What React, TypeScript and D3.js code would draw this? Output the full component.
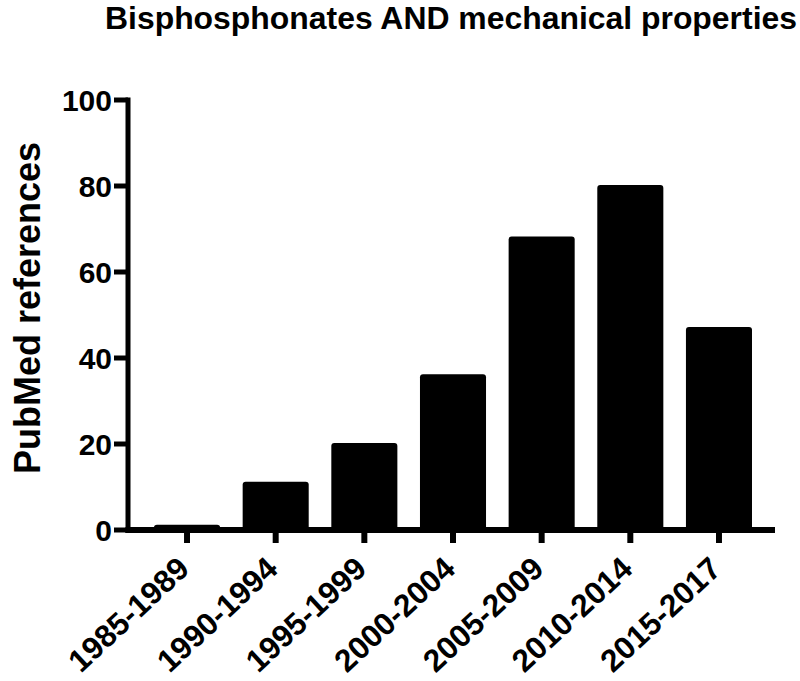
import React, { useEffect, useRef } from "react";
import * as d3 from "d3";

const periods = [
  "1985-1989",
  "1990-1994",
  "1995-1999",
  "2000-2004",
  "2005-2009",
  "2010-2014",
  "2015-2017",
];
const references = [1, 11, 20, 36, 68, 80, 47];
const yTicks = [0, 20, 40, 60, 80, 100];

const FONT = "'Liberation Sans', Arial, Helvetica, sans-serif";

const App = () => {
  const chartRef = useRef<SVGSVGElement | null>(null);

  useEffect(() => {
    const svg = d3.select(chartRef.current);
    svg.selectAll("*").remove();

    const width = 800;
    const height = 681;
    const axisX = 128;
    const axisY = 530;

    const x = d3
      .scaleBand()
      .domain(periods)
      .range([142.7, 763.3])
      .paddingInner(0.255)
      .paddingOuter(0.1275);

    const y = d3.scaleLinear().domain([0, 100]).range([axisY, 100]);

    svg.attr("width", width).attr("height", height);

    // title
    svg
      .append("text")
      .attr("x", 105)
      .attr("y", 29)
      .attr("textLength", 692)
      .attr("lengthAdjust", "spacingAndGlyphs")
      .style("font-family", FONT)
      .style("font-weight", "bold")
      .style("font-size", "31px")
      .text("Bisphosphonates AND mechanical properties");

    // bars
    svg
      .selectAll("rect.bar")
      .data(references)
      .enter()
      .append("rect")
      .attr("class", "bar")
      .attr("x", (_, i) => x(periods[i]) as number)
      .attr("y", (d) => y(d) - 1)
      .attr("width", x.bandwidth())
      .attr("height", (d) => y(0) - y(d) + 1)
      .attr("rx", 3)
      .attr("fill", "#000");

    // y axis
    svg
      .append("line")
      .attr("x1", axisX)
      .attr("x2", axisX)
      .attr("y1", y(100) - 2.5)
      .attr("y2", axisY + 3)
      .attr("stroke", "#000")
      .attr("stroke-width", 5);

    svg
      .selectAll("line.ytick")
      .data(yTicks)
      .enter()
      .append("line")
      .attr("class", "ytick")
      .attr("x1", 114)
      .attr("x2", axisX)
      .attr("y1", (d) => y(d))
      .attr("y2", (d) => y(d))
      .attr("stroke", "#000")
      .attr("stroke-width", 5);

    svg
      .selectAll("text.ylab")
      .data(yTicks)
      .enter()
      .append("text")
      .attr("class", "ylab")
      .attr("x", 112)
      .attr("y", (d) => y(d))
      .attr("dy", "0.36em")
      .attr("text-anchor", "end")
      .style("font-family", FONT)
      .style("font-weight", "bold")
      .style("font-size", "30px")
      .text((d) => d);

    // x axis
    svg
      .append("line")
      .attr("x1", axisX - 2.5)
      .attr("x2", 775)
      .attr("y1", axisY)
      .attr("y2", axisY)
      .attr("stroke", "#000")
      .attr("stroke-width", 6);

    svg
      .selectAll("line.xtick")
      .data(periods)
      .enter()
      .append("line")
      .attr("class", "xtick")
      .attr("x1", (d) => (x(d) as number) + x.bandwidth() / 2)
      .attr("x2", (d) => (x(d) as number) + x.bandwidth() / 2)
      .attr("y1", axisY)
      .attr("y2", 543)
      .attr("stroke", "#000")
      .attr("stroke-width", 6);

    svg
      .selectAll("text.xlab")
      .data(periods)
      .enter()
      .append("text")
      .attr("class", "xlab")
      .attr(
        "transform",
        (d) =>
          `translate(${(x(d) as number) + x.bandwidth() / 2 + 4},571) rotate(-43)`
      )
      .attr("text-anchor", "end")
      .style("font-family", FONT)
      .style("font-weight", "bold")
      .style("font-size", "31.5px")
      .text((d) => d);

    // y axis title
    svg
      .append("text")
      .attr("transform", "translate(40,308) rotate(-90)")
      .attr("text-anchor", "middle")
      .style("font-family", FONT)
      .style("font-weight", "bold")
      .style("font-size", "36px")
      .text("PubMed references");
  }, []);

  return (
    <svg
      ref={chartRef}
      style={{ position: "absolute", left: 0, top: 0, background: "#fff" }}
    ></svg>
  );
};

export default App;
